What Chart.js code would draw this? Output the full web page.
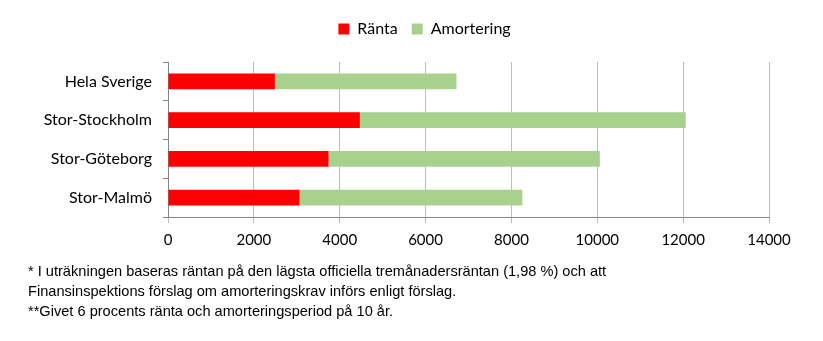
<!DOCTYPE html>
<html>
<head>
<meta charset="utf-8">
<script src="https://cdn.jsdelivr.net/npm/chart.js@4/dist/chart.umd.min.js"></script>
<style>
  html, body { margin: 0; padding: 0; background: #fff; }
  #wrap { position: relative; width: 823px; height: 341px; }
  #c { position: absolute; left: 0; top: 0; }
  .note { position: absolute; left: 28px; font-family: "Liberation Sans", Arial, sans-serif; font-size: 14.6px; color: #000; white-space: nowrap; line-height: 20px; }
</style>
</head>
<body>
<div id="wrap">
  <canvas id="c" width="823" height="341"></canvas>
  <div class="note" style="top:261px">* I uträkningen baseras räntan på den lägsta officiella tremånadersräntan (1,98 %) och att</div>
  <div class="note" style="top:281px">Finansinspektions förslag om amorteringskrav införs enligt förslag.</div>
  <div class="note" style="top:301px">**Givet 6 procents ränta och amorteringsperiod på 10 år.</div>
</div>
<script>
const categories = ["Hela Sverige", "Stor-Stockholm", "Stor-Göteborg", "Stor-Malmö"];
const rantaValues = [2490, 4470, 3740, 3065];
const amorteringValues = [4230, 7590, 6320, 5190];
const xTicks = [0, 2000, 4000, 6000, 8000, 10000, 12000, 14000];

const FONT = "Lato, 'Open Sans', sans-serif";

const legendMargin = {
  id: 'legendMargin',
  beforeInit(chart) {
    const orig = chart.legend.fit;
    chart.legend.fit = function () {
      orig.bind(chart.legend)();
      this.height += 15;
    };
  },
  afterLayout(chart) {
    chart.legend.left += 80;
  }
};

new Chart(document.getElementById('c'), {
  type: 'bar',
  data: {
    labels: categories,
    datasets: [
      { label: 'Ränta', data: rantaValues, backgroundColor: '#FF0000', borderWidth: 0, barPercentage: 0.41, categoryPercentage: 1 },
      { label: 'Amortering', data: amorteringValues, backgroundColor: '#A9D18E', borderWidth: 0, barPercentage: 0.41, categoryPercentage: 1 }
    ]
  },
  options: {
    indexAxis: 'y',
    responsive: false,
    animation: false,
    devicePixelRatio: 1,
    layout: { padding: { left: 0, right: 54, top: 7, bottom: 94 } },
    plugins: {
      tooltip: { enabled: false },
      legend: {
        position: 'top',
        align: 'center',
        labels: {
          boxWidth: 11,
          boxHeight: 11,
          padding: 14,
          color: '#000',
          font: { family: FONT, size: 16 }
        }
      }
    },
    scales: {
      x: {
        stacked: true,
        min: 0,
        max: 14000,
        afterBuildTicks(scale) { scale.ticks = xTicks.map(v => ({ value: v })); },
        afterFit(scale) { scale.height = 30; },
        grid: { color: '#BDBDBD', tickLength: 6, lineWidth: 1 },
        border: { color: '#868686' },
        ticks: { color: '#000', font: { family: FONT, size: 15 }, padding: 8, maxRotation: 0, callback: v => String(v) }
      },
      y: {
        stacked: true,
        afterFit(scale) { scale.width = 168; },
        grid: { drawOnChartArea: false, drawTicks: true, tickLength: 5, color: '#868686', offset: true },
        border: { color: '#868686' },
        ticks: { color: '#000', font: { family: FONT, size: 16 }, padding: 11 }
      }
    }
  },
  plugins: [legendMargin]
});
</script>
</body>
</html>
